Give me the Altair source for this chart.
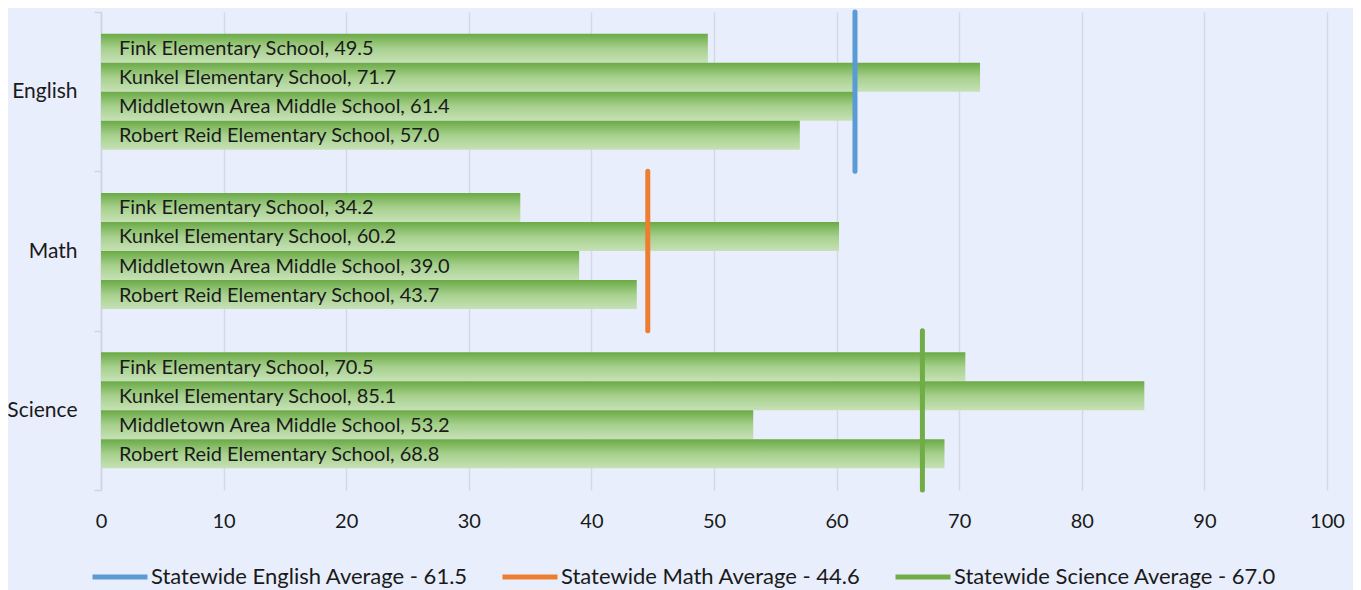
import altair as alt
import pandas as pd

subjects = ["English", "Math", "Science"]
schools = ["Fink Elementary School", "Kunkel Elementary School",
           "Middletown Area Middle School", "Robert Reid Elementary School"]
english_scores = [49.5, 71.7, 61.4, 57.0]
math_scores = [34.2, 60.2, 39.0, 43.7]
science_scores = [70.5, 85.1, 53.2, 68.8]
state_avgs = [61.5, 44.6, 67.0]
avg_labels = ["Statewide English Average - 61.5",
              "Statewide Math Average - 44.6",
              "Statewide Science Average - 67.0"]
avg_colors = ["#5B9BD5", "#ED7D31", "#70AD47"]
x_ticks = [0, 10, 20, 30, 40, 50, 60, 70, 80, 90, 100]

rows = []
for subj, vals in zip(subjects, [english_scores, math_scores, science_scores]):
    for sch, v in zip(schools, vals):
        rows.append({"Subject": subj, "School": sch, "Score": v,
                     "Label": f"{sch}, {v:.1f}"})
bars_df = pd.DataFrame(rows)
avg_df = pd.DataFrame({"Subject": subjects, "Avg": state_avgs, "Legend": avg_labels})

FONT = "Lato"
y_enc = alt.Y("Subject:N", sort=subjects,
              scale=alt.Scale(domain=subjects, paddingInner=0, paddingOuter=0),
              axis=alt.Axis(title=None, tickBand="extent", domainColor="#D0D4DE",
                            tickColor="#D0D4DE", tickSize=7, domainWidth=1.5, tickWidth=1.5,
                            labelFontSize=21, labelFont=FONT, labelColor="#1a1a1a",
                            labelPadding=17, grid=False))
yoff = alt.YOffset("School:N", sort=schools,
                   scale=alt.Scale(domain=schools, paddingInner=0, paddingOuter=0.747))
x_scale = alt.Scale(domain=[0, 100], nice=False)

bars = alt.Chart(bars_df).mark_bar(
    color=alt.Gradient(gradient="linear", x1=0, y1=0, x2=0, y2=1,
                       stops=[alt.GradientStop(color="#6AAA45", offset=0),
                              alt.GradientStop(color="#A6D08C", offset=0.5),
                              alt.GradientStop(color="#C6E1B6", offset=1)])
).encode(
    x=alt.X("Score:Q", scale=x_scale,
            axis=alt.Axis(title=None, values=x_ticks, domain=False, ticks=False,
                          gridColor="#D3D9E6", gridWidth=1.5, labelFontSize=20,
                          labelFont=FONT, labelColor="#1a1a1a", labelPadding=21,
                          labelFlush=False)),
    y=y_enc,
    yOffset=yoff,
)

texts = alt.Chart(bars_df).mark_text(
    align="left", baseline="middle", dx=18, dy=1, fontSize=20, font=FONT, color="#1a1a1a"
).encode(
    x=alt.datum(0),
    y=y_enc,
    yOffset=yoff,
    text="Label:N",
)

avg_lines = alt.Chart(avg_df).mark_bar(
    fillOpacity=0, strokeWidth=5, strokeJoin="round"
).encode(
    x=alt.X("Avg:Q", scale=x_scale),
    x2=alt.X2("Avg:Q"),
    y=y_enc,
    stroke=alt.Stroke("Legend:N", sort=avg_labels,
                      scale=alt.Scale(domain=avg_labels, range=avg_colors),
                      legend=alt.Legend(title=None, orient="none", direction="horizontal",
                                        legendX=-11, legendY=535,
                                        symbolType="stroke", symbolStrokeWidth=5,
                                        symbolSize=3025, labelFontSize=22, labelFont=FONT,
                                        labelColor="#1a1a1a", labelOffset=1,
                                        labelLimit=0, columnPadding=24)),
)

chart = alt.layer(bars, avg_lines, texts).properties(
    width=1226, height=478,
    background="#E8EEFC",
    padding={"left": 93, "top": 4, "right": 26, "bottom": 100},
    autosize=alt.AutoSizeParams(type="none"),
).configure_view(stroke=None)

chart.save("out.html", embed_options={"renderer": "svg", "actions": False})
